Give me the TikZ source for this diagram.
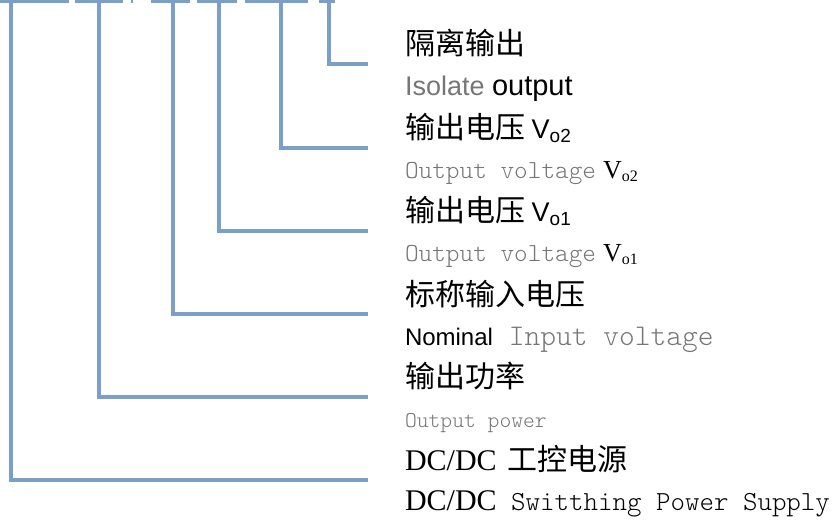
\documentclass[tikz,border=0pt]{standalone}
\usepackage{fontspec}
\usepackage{xcolor}
\newfontfamily\cjk{Noto Sans CJK SC}
\newfontfamily\arialf{Liberation Sans}
\newfontfamily\tnrf{Liberation Serif}
\newfontfamily\engmono{lmmonolt10-regular.otf}
\definecolor{wireblue}{RGB}{122,160,200}
\definecolor{txtgray}{RGB}{118,118,118}
\newcommand{\fs}[1]{\fontsize{#1}{#1}\selectfont}
\newcommand{\sub}[2]{\raisebox{-0.3ex}{\fs{#1}#2}}

\begin{document}
\begin{tikzpicture}[x=1pt, y=-1pt,
    wire/.style={draw=wireblue, line width=3.2pt},
    lbl/.style={anchor=base west, inner sep=0pt, outer sep=0pt}]
    \useasboundingbox (0,0) rectangle (840,519);
    % underline pieces along the top edge
    \foreach \a/\b in {0/69, 75/123, 130.5/132.5, 151/190, 197/237, 245/308, 319/335}
        \draw[wire] (\a,1.3) -- (\b,1.3);
    % branch points and line ends
    \foreach \n/\x/\y in {dc/11/480, pw/99/397, vin/173/314, vone/219/231, vtwo/281/148, iso/329/64} {
        \coordinate (t-\n) at (\x,0);
        \coordinate (e-\n) at (368,\y);
    }
    % labels
    \node[lbl] (iso)    at (405,55)  {\cjk\fs{30}隔离输出};
    \node[lbl] (isoen)  at (405,95)  {\arialf\fs{27}{\color{txtgray}Isolate} \fs{29}output};
    \node[lbl] (vtwo)   at (405,138) {\cjk\fs{30}输出电压 {\arialf\fs{27}V\sub{19}{o2}}};
    \node[lbl] (vtwoen) at (405,178) {{\engmono\fs{26}\color{txtgray}Output voltage}\hspace{7pt}{\tnrf\fs{26}V\sub{16}{o2}}};
    \node[lbl] (vone)   at (405,221) {\cjk\fs{30}输出电压 {\arialf\fs{27}V\sub{19}{o1}}};
    \node[lbl] (voneen) at (405,261) {{\engmono\fs{26}\color{txtgray}Output voltage}\hspace{7pt}{\tnrf\fs{26}V\sub{16}{o1}}};
    \node[lbl] (vin)    at (405,305) {\cjk\fs{30}标称输入电压};
    \node[lbl] (vinen)  at (405,345) {{\arialf\fs{24}Nominal}{\engmono\fs{30}\color{txtgray}\ Input voltage}};
    \node[lbl] (pw)     at (405,387) {\cjk\fs{30}输出功率};
    \node[lbl] (pwen)   at (405,427) {\engmono\fs{22.5}\color{txtgray}Output power};
    \node[lbl] (dc)     at (405,470) {\tnrf\fs{30}DC/DC\hspace{11pt}{\cjk 工控电源}};
    \node[lbl] (dcen)   at (405,510) {{\tnrf\fs{30}DC/DC}{\engmono\fs{27.6}\ Switthing Power Supply}};
    % connectors
    \foreach \n in {dc, pw, vin, vone, vtwo, iso}
        \draw[wire] (t-\n) |- (e-\n);
\end{tikzpicture}
\end{document}
